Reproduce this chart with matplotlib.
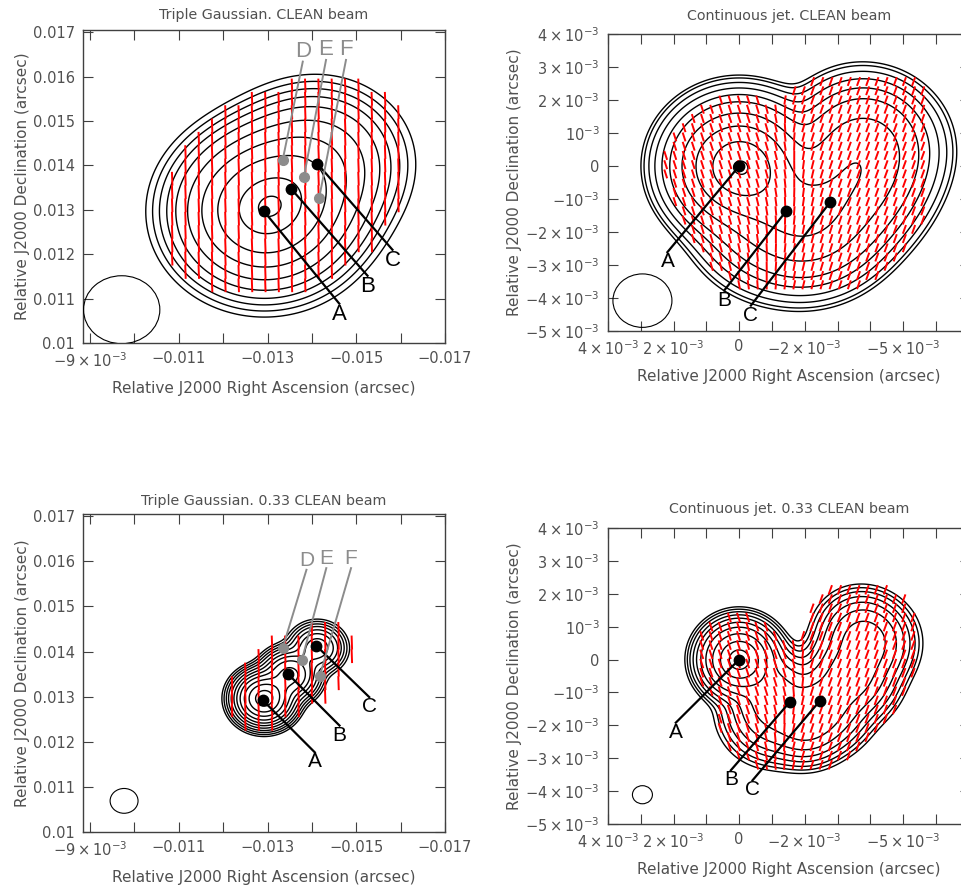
import numpy as np
import matplotlib
matplotlib.use("Agg")
import matplotlib.pyplot as plt
from matplotlib.patches import Ellipse
from matplotlib.collections import LineCollection
from matplotlib.ticker import MultipleLocator, FuncFormatter

plt.rcParams['font.family'] = ['DejaVu Sans']
plt.rcParams['mathtext.default'] = 'regular'

TEXT_GRAY = '#505050'
DOT_GRAY = '#8c8c8c'
FWHM = 2.3548

# ---- Triple Gaussian source model (arcsec) ----
tg_x = [-0.01292, -0.01350, -0.01412]
tg_y = [0.01296, 0.01348, 0.01408]
tg_flux = [1.0, 0.35, 0.13]
tg_size = [0.10e-3, 0.08e-3, 0.05e-3]
tg_pol = [0.2, 0.15, 0.4]
tg_evpa = [2.0, 2.0, 2.0]

# ---- Continuous jet source model (arcsec) ----
cj_x = [0.0, -1.0e-3, -1.0e-3, -2.0e-3, -2.6e-3, -3.4e-3, -3.9e-3, -3.6e-3]
cj_y = [0.0, -0.9e-3, -1.6e-3, -1.9e-3, -1.4e-3, -0.5e-3, 0.5e-3, 0.9e-3]
cj_flux = [1.0, 0.12, 0.15, 0.15, 0.18, 0.2, 0.18, 0.04]
cj_size = [0.37e-3, 0.45e-3, 0.55e-3, 0.45e-3, 0.5e-3, 0.5e-3, 0.5e-3, 0.45e-3]
cj_pol = [0.15, 0.12, 0.12, 0.14, 0.18, 0.18, 0.18, 0.15]
cj_evpa = [18.0, 18.0, 18.0, -20.0, -20.0, -20.0, -20.0, -20.0]

# contour levels, fraction of the map peak
levels_tl = [0.0012, 0.0025, 0.005, 0.01, 0.022, 0.055, 0.14, 0.32, 0.68, 0.95]
levels_bl = [0.004, 0.007, 0.012, 0.02, 0.035, 0.06, 0.1, 0.17, 0.3, 0.5, 0.8]
levels_tr = [0.0019, 0.0028, 0.005, 0.0098, 0.0205, 0.043, 0.117, 0.29, 0.62, 0.97]
levels_br = [0.0012, 0.0022, 0.004, 0.008, 0.016, 0.035, 0.08, 0.2, 0.45, 0.8]

# polarised regions of the triple Gaussian maps: centre x, y, semi-axes, tilt (deg)
pol_region_tl = [-0.01345, 0.01350, 3.1e-3, 2.2e-3, 30.0]
pol_region_bl = [-0.01350, 0.01345, 1.7e-3, 0.85e-3, 30.0]

# restoring beams (fwhm x, fwhm y) and where the beam is drawn
beam_tl = [1.72e-3, 1.53e-3, -0.009712, 0.01075]
beam_bl = [0.63e-3, 0.55e-3, -0.009766, 0.01069]
beam_tr = [1.80e-3, 1.62e-3, 2.95e-3, -4.08e-3]
beam_br = [0.61e-3, 0.55e-3, 2.95e-3, -4.11e-3]

# marked positions A, B, C (black) and D, E, F (grey)
abc_tl_x = [-0.012924, -0.013532, -0.014125]
abc_tl_y = [0.012963, 0.013473, 0.014036]
abc_tl_lx = [-0.014618, -0.015254, -0.015816]
abc_tl_ly = [0.010885, 0.011515, 0.012100]
def_tl_x = [-0.013342, -0.013821, -0.014163]
def_tl_y = [0.014126, 0.013750, 0.013263]
def_tl_lx = [-0.013794, -0.014318, -0.014768]
def_tl_ly = [0.016338, 0.016376, 0.016376]

abc_bl_x = [-0.012896, -0.013453, -0.014100]
abc_bl_y = [0.012918, 0.013511, 0.014128]
abc_bl_lx = [-0.014065, -0.014622, -0.015292]
abc_bl_ly = [0.011766, 0.012360, 0.012991]
def_bl_x = [-0.013342, -0.013773, -0.014175]
def_bl_y = [0.014083, 0.013808, 0.013452]
def_bl_lx = [-0.013877, -0.014324, -0.014882]
def_bl_ly = [0.015813, 0.015850, 0.015850]

abc_tr_x = [0.0, -1.425e-3, -2.777e-3]
abc_tr_y = [0.0, -1.376e-3, -1.093e-3]
abc_tr_lx = [2.188e-3, 0.458e-3, -0.357e-3]
abc_tr_ly = [-2.61e-3, -3.775e-3, -4.23e-3]

abc_br_x = [0.0, -1.556e-3, -2.462e-3]
abc_br_y = [0.0, -1.276e-3, -1.255e-3]
abc_br_lx = [1.932e-3, 0.254e-3, -0.407e-3]
abc_br_ly = [-1.919e-3, -3.367e-3, -3.673e-3]

labels_abc = ['A', 'B', 'C']
labels_def = ['D', 'E', 'F']

# tick labels
tg_xlabels = {-90: r'$-9\times10^{-3}$', -110: '\u22120.011', -130: '\u22120.013',
              -150: '\u22120.015', -170: '\u22120.017'}
tg_ylabels = {100: '0.01', 110: '0.011', 120: '0.012', 130: '0.013',
              140: '0.014', 150: '0.015', 160: '0.016', 170: '0.017'}
cj_xlabels = {40: r'$4\times10^{-3}$', 20: r'$2\times10^{-3}$', 0: '0',
              -20: r'$-2\times10^{-3}$', -50: r'$-5\times10^{-3}$'}
cj_ylabels = {40: r'$4\times10^{-3}$', 30: r'$3\times10^{-3}$', 20: r'$2\times10^{-3}$',
              10: r'$10^{-3}$', 0: '0', -10: r'$-10^{-3}$', -20: r'$-2\times10^{-3}$',
              -30: r'$-3\times10^{-3}$', -40: r'$-4\times10^{-3}$', -50: r'$-5\times10^{-3}$'}


def model_maps(X, Y, xs, ys, flux, size, pol, evpa, bmaj, bmin):
    sbx, sby = bmaj / FWHM, bmin / FWHM
    I = np.zeros_like(X)
    Q = np.zeros_like(X)
    U = np.zeros_like(X)
    for x0, y0, f, s, p, chi in zip(xs, ys, flux, size, pol, evpa):
        sx = np.hypot(s, sbx)
        sy = np.hypot(s, sby)
        g = sbx * sby / (sx * sy) * np.exp(-0.5 * (((X - x0) / sx) ** 2 + ((Y - y0) / sy) ** 2))
        I += f * g
        c = np.radians(chi)
        Q += p * g * np.cos(2 * c)
        U += p * g * np.sin(2 * c)
    return I, Q, U


def in_region(X, Y, region):
    cx, cy, a, b, tilt = region
    t = np.radians(tilt)
    xr = -(X - cx)          # RA axis runs right to left
    yr = Y - cy
    u = xr * np.cos(t) + yr * np.sin(t)
    v = -xr * np.sin(t) + yr * np.cos(t)
    return (u / a) ** 2 + (v / b) ** 2 <= 1.0


def fmt(labels):
    return FuncFormatter(lambda v, pos: labels.get(int(round(v * 1e4)), ''))


def setup_axes(ax, xlim, ylim, xlabels, ylabels, title, tpad):
    ax.set_xlim(*xlim)
    ax.set_ylim(*ylim)
    ax.xaxis.set_major_locator(MultipleLocator(0.001))
    ax.yaxis.set_major_locator(MultipleLocator(0.001))
    ax.xaxis.set_major_formatter(fmt(xlabels))
    ax.yaxis.set_major_formatter(fmt(ylabels))
    ax.tick_params(direction='in', top=True, right=True, length=7, width=0.8,
                   color='#404040', labelcolor=TEXT_GRAY, labelsize=10.5, pad=6)
    for sp in ax.spines.values():
        sp.set_color('#404040')
        sp.set_linewidth(1.0)
    ax.set_title(title, fontsize=10.3, color=TEXT_GRAY, pad=tpad)
    ax.set_xlabel('Relative J2000 Right Ascension (arcsec)', fontsize=11, color=TEXT_GRAY, labelpad=8)
    ax.set_ylabel('Relative J2000 Declination (arcsec)', fontsize=11, color=TEXT_GRAY, labelpad=2)


def draw_panel(ax, model, beam, levels, xlim, ylim, step, vlen, thr, box,
               xlabels, ylabels, title, tpad, region=None):
    setup_axes(ax, xlim, ylim, xlabels, ylabels, title, tpad)
    xs, ys, flux, size, pol, evpa = model
    gx = np.linspace(min(xlim), max(xlim), 400)
    gy = np.linspace(min(ylim), max(ylim), 400)
    X, Y = np.meshgrid(gx, gy)
    I, Q, U = model_maps(X, Y, xs, ys, flux, size, pol, evpa, beam[0], beam[1])
    ax.contour(X, Y, I, levels=np.array(levels) * I.max(), colors='black', linewidths=1.0)

    # polarisation vectors on a coarse grid
    vx = np.arange(box[0], box[1] + 1e-9, step)
    vy = np.arange(box[2], box[3] + 1e-9, step)
    VX, VY = np.meshgrid(vx, vy)
    _, Qv, Uv = model_maps(VX, VY, xs, ys, flux, size, pol, evpa, beam[0], beam[1])
    P = np.hypot(Qv, Uv)
    chi = 0.5 * np.arctan2(Uv, Qv)
    if region is None:
        keep = P > thr * P.max()
    else:
        keep = in_region(VX, VY, region)
    dx = 0.5 * vlen * np.sin(chi[keep])
    dy = 0.5 * vlen * np.cos(chi[keep])
    xk, yk = VX[keep], VY[keep]
    segs = np.stack([np.stack([xk - dx, yk - dy], -1), np.stack([xk + dx, yk + dy], -1)], 1)
    ax.add_collection(LineCollection(segs, colors='red', linewidths=1.4, zorder=3))

    ax.add_patch(Ellipse((beam[2], beam[3]), beam[0], beam[1], fill=False,
                         edgecolor='black', lw=0.8, zorder=4))


def mark_abc(ax, x, y, lx, ly, fs):
    for px, py, qx, qy, lab in zip(x, y, lx, ly, labels_abc):
        ax.plot([px, qx], [py, qy], color='black', lw=1.6, zorder=5)
        ax.plot(px, py, 'o', color='black', ms=7.5, zorder=6)
        ax.text(qx, qy, lab, ha='center', va='top', fontsize=fs, color='black',
                family=['Liberation Sans'], zorder=6)


def mark_def(ax, x, y, lx, ly, fs):
    for px, py, qx, qy, lab in zip(x, y, lx, ly, labels_def):
        ax.plot([px, qx], [py, qy], color=DOT_GRAY, lw=1.4, zorder=5)
        ax.plot(px, py, 'o', color=DOT_GRAY, ms=7, zorder=6)
        ax.text(qx, qy, lab, ha='center', va='bottom', fontsize=fs, color=DOT_GRAY,
                family=['Liberation Sans'], zorder=6)


fig = plt.figure(figsize=(9.62, 8.86), dpi=100)
W, H = 962.0, 886.0
ax_tl = fig.add_axes([83 / W, 1 - 343 / H, 362 / W, 313 / H])
ax_tr = fig.add_axes([608 / W, 1 - 331 / H, 362 / W, 297 / H])
ax_bl = fig.add_axes([83 / W, 1 - 832 / H, 362 / W, 318 / H])
ax_br = fig.add_axes([608 / W, 1 - 824 / H, 362 / W, 296 / H])

tg_model = (tg_x, tg_y, tg_flux, tg_size, tg_pol, tg_evpa)
cj_model = (cj_x, cj_y, cj_flux, cj_size, cj_pol, cj_evpa)

tg_xlim = (-0.00884, -0.01700)
tg_ylim = (0.01, 0.01705)
cj_xlim = (4.0e-3, -7.04e-3)
cj_ylim = (-5.0e-3, 4.0e-3)

draw_panel(ax_tl, tg_model, beam_tl, levels_tl, tg_xlim, tg_ylim, 0.3e-3, 0.31e-3, 0.003,
           (-0.01595, -0.01085, 0.0110, 0.01585), tg_xlabels, tg_ylabels,
           'Triple Gaussian. CLEAN beam', 8, region=pol_region_tl)
draw_panel(ax_bl, tg_model, beam_bl, levels_bl, tg_xlim, tg_ylim, 0.3e-3, 0.31e-3, 0.03,
           (-0.01490, -0.01219, 0.0118, 0.01475), tg_xlabels, tg_ylabels,
           'Triple Gaussian. 0.33 CLEAN beam', 6.5, region=pol_region_bl)
draw_panel(ax_tr, cj_model, beam_tr, levels_tr, cj_xlim, cj_ylim, 0.28e-3, 0.28e-3, 0.012,
           (-5.6e-3, 2.6e-3, -3.6e-3, 2.6e-3), cj_xlabels, cj_ylabels,
           'Continuous jet. CLEAN beam', 10)
draw_panel(ax_br, cj_model, beam_br, levels_br, cj_xlim, cj_ylim, 0.28e-3, 0.30e-3, 0.006,
           (-5.3e-3, 2.6e-3, -3.2e-3, 2.3e-3), cj_xlabels, cj_ylabels,
           'Continuous jet. 0.33 CLEAN beam', 10.5)

mark_abc(ax_tl, abc_tl_x, abc_tl_y, abc_tl_lx, abc_tl_ly, 16)
mark_def(ax_tl, def_tl_x, def_tl_y, def_tl_lx, def_tl_ly, 16)
mark_abc(ax_bl, abc_bl_x, abc_bl_y, abc_bl_lx, abc_bl_ly, 15)
mark_def(ax_bl, def_bl_x, def_bl_y, def_bl_lx, def_bl_ly, 15)
mark_abc(ax_tr, abc_tr_x, abc_tr_y, abc_tr_lx, abc_tr_ly, 15)
mark_abc(ax_br, abc_br_x, abc_br_y, abc_br_lx, abc_br_ly, 15)

fig.savefig('out.png', dpi=100)
